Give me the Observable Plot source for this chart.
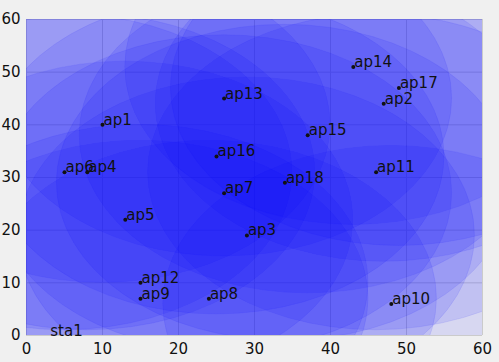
<!DOCTYPE html>
<html>
<head>
<meta charset="utf-8">
<script src="https://cdn.jsdelivr.net/npm/d3@7"></script>
<script src="https://cdn.jsdelivr.net/npm/@observablehq/plot@0.6"></script>
<style>
  html, body { margin: 0; padding: 0; background: #f0f0f0; }
  #chart svg { display: block; }
</style>
</head>
<body>
<div id="chart"></div>
<script>
// Access points (name, position) and their coverage range
const apNames = ["ap1","ap2","ap3","ap4","ap5","ap6","ap7","ap8","ap9","ap10","ap11","ap12","ap13","ap14","ap15","ap16","ap17","ap18"];
const apX     = [10, 47, 29,  8, 13,  5, 26, 24, 15, 48, 46, 15, 26, 43, 37, 25, 49, 34];
const apY     = [40, 44, 19, 31, 22, 31, 27,  7,  7,  6, 31, 10, 45, 51, 38, 34, 47, 29];
const apRange = [30, 30, 30, 30, 30, 30, 30, 30, 30, 30, 30, 30, 30, 30, 30, 30, 30, 30];

// Stations
const staNames = ["sta1"];
const staX = [3];
const staY = [0];

// Axis ticks
const xTicks = [0, 10, 20, 30, 40, 50, 60];
const yTicks = [0, 10, 20, 30, 40, 50, 60];

const aps = apNames.map((name, i) => ({name, x: apX[i], y: apY[i], r: apRange[i]}));
const stas = staNames.map((name, i) => ({name, x: staX[i], y: staY[i]}));

const W = 499, H = 362;
const M = {left: 26, right: 17, top: 19, bottom: 27};

function rangeCircles(index, scales, values, dimensions) {
  const {width, height, marginLeft, marginRight, marginTop, marginBottom} = dimensions;
  const x = (scales && scales.x) || d3.scaleLinear([0, 60], [marginLeft, width - marginRight]);
  const y = (scales && scales.y) || d3.scaleLinear([0, 60], [height - marginBottom, marginTop]);
  const g = d3.create("svg:g");
  g.append("clipPath").attr("id", "plotclip")
    .append("rect")
    .attr("x", marginLeft).attr("y", marginTop)
    .attr("width", width - marginLeft - marginRight)
    .attr("height", height - marginTop - marginBottom);
  const c = g.append("g").attr("clip-path", "url(#plotclip)");
  aps.forEach(d => {
    c.append("ellipse")
      .attr("cx", x(d.x)).attr("cy", y(d.y))
      .attr("rx", Math.abs(x(d.x + d.r) - x(d.x)))
      .attr("ry", Math.abs(y(d.y + d.r) - y(d.y)))
      .attr("fill", "#0000ff").attr("fill-opacity", 0.1)
      .attr("stroke", "#0000ff").attr("stroke-opacity", 0.1)
      .attr("stroke-width", 0.7);
  });
  return g.node();
}

const chart = Plot.plot({
  width: W,
  height: H,
  marginLeft: M.left,
  marginRight: M.right,
  marginTop: M.top,
  marginBottom: M.bottom,
  style: {background: "#f0f0f0", fontFamily: "DejaVu Sans", fontSize: "15px", color: "#111"},
  x: {domain: [0, 60], ticks: xTicks, tickSize: 0, tickPadding: 8, label: null},
  y: {domain: [0, 60], ticks: yTicks, tickSize: 0, tickPadding: 6, label: null},
  marks: [
    Plot.ruleX(xTicks, {x: d => d, stroke: "#cbcbcb", strokeWidth: 1}),
    Plot.ruleY(yTicks, {y: d => d, stroke: "#cbcbcb", strokeWidth: 1}),
    rangeCircles,
    Plot.dot(aps, {x: "x", y: "y", r: 2, fill: "#111", stroke: null}),
    Plot.text(aps, {x: "x", y: "y", text: "name", textAnchor: "start", lineAnchor: "bottom", dx: 1, fill: "#111", fontSize: 15}),
    Plot.text(stas, {x: "x", y: "y", text: "name", textAnchor: "start", lineAnchor: "bottom", dx: 1, fill: "#111", fontSize: 15})
  ]
});
document.getElementById("chart").appendChild(chart);
</script>
</body>
</html>
